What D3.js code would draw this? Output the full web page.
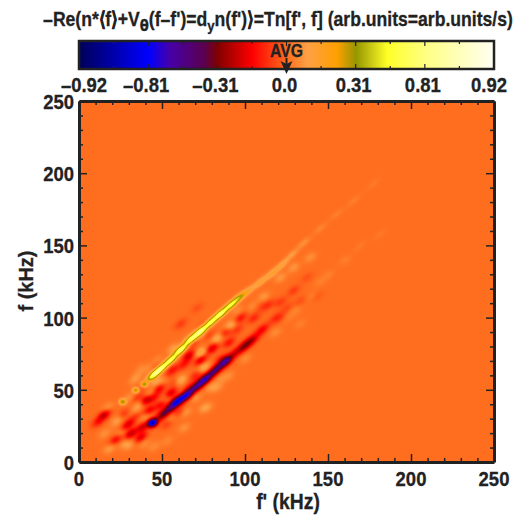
<!doctype html>
<html lang="en">
  <head>
    <meta charset="UTF-8" />
    <title>Tn[f', f] bispectrum</title>
    <script src="https://d3js.org/d3.v7.min.js"></script>
    <style>
      body { margin: 0; background: #fff; }
      text { font-family: "Liberation Sans", Arial, sans-serif; font-weight: bold; fill: #222; stroke: #222; stroke-width: 0.3; }
      .axis path, .axis line { stroke: #222; fill: none; }
      .axis path { stroke-width: 3; }
      .axis line { stroke-width: 1.5; }
    </style>
  </head>
  <body>
    <div id="chart"></div>
    <script>
      // Colour bar
      const barLabels = ['–0.92', '–0.81', '–0.31', '0.0', '0.31', '0.81', '0.92'];
      const barValues = [-0.92, -0.81, -0.31, 0, 0.31, 0.81, 0.92];
      const colorLevels = [-3, -2, -1.7, -1.2, -1, -0.5, 0, 0.3, 0.72, 1, 1.45, 2, 3];
      const colorStops = ['#00005a', '#0000ff', '#4600aa', '#5a0050', '#820000', '#ff0000', '#ff6e1e', '#ffa046', '#ffa000', '#969600', '#ffff28', '#ffff82', '#fffff5'];
      const axisTicks = [0, 50, 100, 150, 200, 250];

      // Samples: [f' kHz, f kHz, value]
      const upperRidge = [
        [44.5, 60.5, 0.62], [49, 65, 0.7], [55, 71, 0.62],
        [61, 78, 0.72], [67, 85, 0.62], [73, 91, 0.72], [79, 97, 0.62], [85, 103, 0.68], [91, 109, 0.5],
        [96, 114, 0.3], [102, 119, 0.13], [109, 125, 0.14], [116, 131, 0.14], [122, 137, 0.12], [128, 144, 0.08],
        [135, 152, 0.06], [145, 162, 0.04], [155, 172, 0.03], [165, 181, 0.03], [177, 193, 0.02],
        [169, 150, 0.02], [181, 158, 0.02]
      ];
      const upperBeads = [[26, 42, 0.33], [34, 50, 0.3], [39, 54, 0.33]];
      const lowerRidge = [
        [50, 33, -0.3], [55, 38, -0.33], [60, 43, -0.42], [65, 47, -0.6], [71, 53, -0.45],
        [76, 58, -0.6], [82, 64, -0.45], [88, 70, -0.6], [94, 76, -0.16], [99, 80, -0.2], [104, 85, -0.22],
        [110, 92, -0.16], [118, 100, -0.08]
      ];
      const lowerSpot = [[44, 27.5, -0.85]];
      const redPatches = [
        [15, 33, -0.22], [11, 28, -0.12], [22, 16, -0.15], [31, 20, -0.22], [37, 17.5, -0.18], [38, 24.5, -0.2],
        [30, 27, -0.15], [34, 33, -0.1], [40, 43, -0.22], [42, 36, -0.17], [48, 51, -0.16], [55, 48, -0.2],
        [56, 64, -0.13], [49, 40, -0.15], [66, 74, -0.2], [73, 71, -0.2], [80, 79, -0.2], [58, 42, -0.22],
        [97, 100, -0.13], [121, 111, -0.07], [129, 119, -0.07], [71, 107, -0.04], [61, 96, -0.07], [88, 90, -0.11],
        [105, 100, -0.1], [70, 60, -0.1], [85, 72, -0.08], [60, 35, -0.08], [53, 27, -0.08], [112, 108, -0.07],
        [75, 95, -0.05], [46, 66, -0.05], [38, 52, -0.05], [100, 82, -0.07], [137, 128, -0.04],
        [26, 33, -0.1], [45, 45, -0.13], [63, 68, -0.12], [90, 83, -0.13], [27, 24, -0.09], [35, 45, -0.08],
        [115, 110, -0.04], [107, 108, -0.05], [125, 107, -0.05], [133, 112, -0.04], [143, 115, -0.03], [121, 100, -0.05],
        [52, 58, -0.08], [58, 56, -0.09], [78, 88, -0.06], [68, 82, -0.07], [95, 92, -0.08], [66, 52, -0.08]
      ];
      const lightPatches = [
        [18, 9.5, 0.08], [17, 38, 0.07], [25, 21, 0.09], [36, 40, 0.1], [46, 56, 0.09], [51, 57, 0.11],
        [64, 35, 0.07], [79, 52, 0.07], [83, 86, 0.13], [73, 76, 0.17], [91, 95, 0.12], [61, 57, 0.09],
        [73, 89, 0.08], [45, 11, 0.05], [63, 24, 0.06], [75, 38, 0.06], [75, 66, 0.12], [111, 115, 0.07],
        [129, 135, 0.07], [139, 142, 0.06], [121, 128, 0.07], [30, 12, 0.07], [40, 32, 0.08], [90, 60, 0.05],
        [100, 72, 0.05], [118, 90, 0.05], [130, 105, 0.04], [150, 130, 0.03], [56, 78, 0.05], [42, 65, 0.05],
        [55, 30, 0.06], [70, 45, 0.07], [85, 58, 0.05], [22, 28, 0.06], [30, 45, 0.06], [65, 85, 0.05],
        [105, 108, 0.07], [95, 105, 0.05], [125, 100, 0.03], [140, 115, 0.03], [160, 140, 0.03], [35, 60, 0.04],
        [15, 20, 0.06], [24, 31, 0.07], [34, 35, 0.08], [27, 13, 0.06], [39, 13, 0.05], [53, 15, 0.04],
        [43, 48, 0.07], [52, 44, 0.07], [77, 38, 0.05], [83, 52, 0.06], [60, 57, 0.07], [69, 88, 0.05],
        [57, 80, 0.04], [47, 71, 0.04], [37, 65, 0.04], [33, 57, 0.05], [133, 96, 0.03], [145, 125, 0.03]
      ];

      const width = 525;
      const height = 519;
      const margin = { top: 101, right: 31, bottom: 57, left: 79 };
      const plotW = width - margin.left - margin.right;
      const plotH = height - margin.top - margin.bottom;
      const bar = { top: 41, height: 28 };

      const svg = d3.select('#chart').append('svg').attr('width', width).attr('height', height);

      const x = d3.scaleLinear().domain([0, 250]).range([margin.left, margin.left + plotW]);
      const y = d3.scaleLinear().domain([0, 250]).range([margin.top + plotH, margin.top]);
      const level = d3.scaleLinear().domain(barValues).range([-3, -2, -1, 0, 1, 2, 3]);
      const color = d3.scaleLinear().domain(colorLevels).range(colorStops).clamp(true);
      const barX = d3.scaleLinear().domain([-3, 3]).range([margin.left, margin.left + plotW]);

      // Add up the samples on the plot pixels, in colour bar levels
      function addLayer(field, samples, alongS, acrossS) {
        const rt = Math.SQRT1_2;
        samples.forEach(([fp, f, v]) => {
          const amp = level(v);
          const reach = alongS * 3;
          const x0 = Math.max(0, Math.floor(x(fp - reach) - margin.left));
          const x1 = Math.min(plotW, Math.ceil(x(fp + reach) - margin.left));
          const y0 = Math.max(0, Math.floor(y(f + reach) - margin.top));
          const y1 = Math.min(plotH, Math.ceil(y(f - reach) - margin.top));
          for (let j = y0; j < y1; j++) {
            const df = y.invert(j + margin.top) - f;
            for (let i = x0; i < x1; i++) {
              const dfp = x.invert(i + margin.left) - fp;
              const u = (dfp + df) * rt;
              const w = (df - dfp) * rt;
              field[j * plotW + i] += amp * Math.exp(-0.5 * (u * u / (alongS * alongS) + w * w / (acrossS * acrossS)));
            }
          }
        });
      }

      const field = new Float32Array(plotW * plotH);
      addLayer(field, redPatches, 3.2, 1.9);
      addLayer(field, lightPatches, 3, 2);
      addLayer(field, upperRidge, 3.6, 1.4);
      addLayer(field, upperBeads, 1.4, 1.4);
      addLayer(field, lowerRidge, 3.6, 1.9);
      addLayer(field, lowerSpot, 2.2, 1.8);

      const canvas = document.createElement('canvas');
      canvas.width = plotW;
      canvas.height = plotH;
      const ctx = canvas.getContext('2d');
      const img = ctx.createImageData(plotW, plotH);
      field.forEach((val, k) => {
        const c = d3.rgb(color(val));
        img.data[k * 4] = c.r;
        img.data[k * 4 + 1] = c.g;
        img.data[k * 4 + 2] = c.b;
        img.data[k * 4 + 3] = 255;
      });
      ctx.putImageData(img, 0, 0);

      svg.append('image')
        .attr('x', margin.left).attr('y', margin.top)
        .attr('width', plotW).attr('height', plotH)
        .attr('href', canvas.toDataURL());

      // Condensed bold text
      function label(px, py, str, size, anchor) {
        return svg.append('text')
          .attr('transform', `translate(${px},${py}) scale(0.88,1)`)
          .attr('text-anchor', anchor)
          .style('font-size', size + 'px')
          .text(str);
      }

      // Plot frame
      const minor = d3.range(0, 251, 10);
      const addAxis = (gen, tx, ty) => svg.append('g').attr('class', 'axis')
        .attr('transform', `translate(${tx},${ty})`)
        .call(gen.tickValues(minor).tickFormat('').tickSizeOuter(0));
      const frame = [
        addAxis(d3.axisBottom(x), 0, margin.top + plotH),
        addAxis(d3.axisTop(x), 0, margin.top),
        addAxis(d3.axisLeft(y), margin.left, 0),
        addAxis(d3.axisRight(y), margin.left + plotW, 0)
      ];
      frame[0].selectAll('.tick line').attr('y2', (d) => (d % 50 ? -4 : -8));
      frame[1].selectAll('.tick line').attr('y2', (d) => (d % 50 ? 4 : 8));
      frame[2].selectAll('.tick line').attr('x2', (d) => (d % 50 ? 4 : 8));
      frame[3].selectAll('.tick line').attr('x2', (d) => (d % 50 ? -4 : -8));

      axisTicks.forEach((t) => {
        label(x(t), 486, t, 21, 'middle');
        label(74, y(t) + 8, t, 21, 'end');
      });
      label(288, 509, "f' (kHz)", 22, 'middle');
      svg.append('text')
        .attr('transform', 'translate(33,281) rotate(-90) scale(0.95,1)')
        .attr('text-anchor', 'middle')
        .style('font-size', '21px')
        .text('f (kHz)');

      // Title
      const title = label(278, 26, '', 20, 'middle');
      title.append('tspan').text("–Re(n*⟨f⟩+V");
      title.append('tspan').attr('dy', 5).style('font-size', '15px').style('font-family', 'DejaVu Sans').text('θ');
      title.append('tspan').attr('dy', -5).text("(f–f')=d");
      title.append('tspan').attr('dy', 5).style('font-size', '15px').text('y');
      title.append('tspan').attr('dy', -5).text("n(f')⟩=Tn[f', f] (arb.units=arb.units/s)");

      // Colour bar bands
      const bands = d3.range(-3, 3, 6 / 415);
      svg.append('g').selectAll('rect').data(bands).join('rect')
        .attr('x', (d) => barX(d))
        .attr('y', bar.top)
        .attr('width', 1.5)
        .attr('height', bar.height)
        .attr('fill', (d) => color(d));
      svg.append('rect')
        .attr('x', margin.left).attr('y', bar.top)
        .attr('width', plotW).attr('height', bar.height)
        .attr('fill', 'none').attr('stroke', '#222').attr('stroke-width', 2.5);
      svg.append('g').selectAll('line').data(d3.range(-3, 3.1, 0.5)).join('line')
        .attr('x1', (d) => barX(d)).attr('x2', (d) => barX(d))
        .attr('y1', bar.top + bar.height).attr('y2', (d) => bar.top + bar.height - (Number.isInteger(d) ? 5 : 3))
        .attr('stroke', '#222').attr('stroke-width', 1.2);
      svg.append('g').selectAll('line').data(d3.range(-3, 3.1, 0.5)).join('line')
        .attr('x1', (d) => barX(d)).attr('x2', (d) => barX(d))
        .attr('y1', bar.top).attr('y2', (d) => bar.top + (Number.isInteger(d) ? 5 : 3))
        .attr('stroke', '#222').attr('stroke-width', 1.2);

      barLabels.forEach((t, i) => {
        const pos = level(barValues[i]);
        label(pos === -3 ? barX(pos) + 5 : pos === 3 ? barX(pos) - 5 : barX(pos) - 2, 92, t, 21, 'middle');
      });

      // AVG marker
      const zero = barX(level(0));
      label(zero, 57, 'AVG', 18, 'middle');
      svg.append('line').attr('x1', zero).attr('x2', zero).attr('y1', 58).attr('y2', 68)
        .attr('stroke', '#222').attr('stroke-width', 2);
      svg.append('path')
        .attr('d', d3.line()([[zero - 6, 61], [zero, 74], [zero + 6, 61], [zero, 64]]) + 'Z')
        .attr('fill', '#222');
    </script>
  </body>
</html>
